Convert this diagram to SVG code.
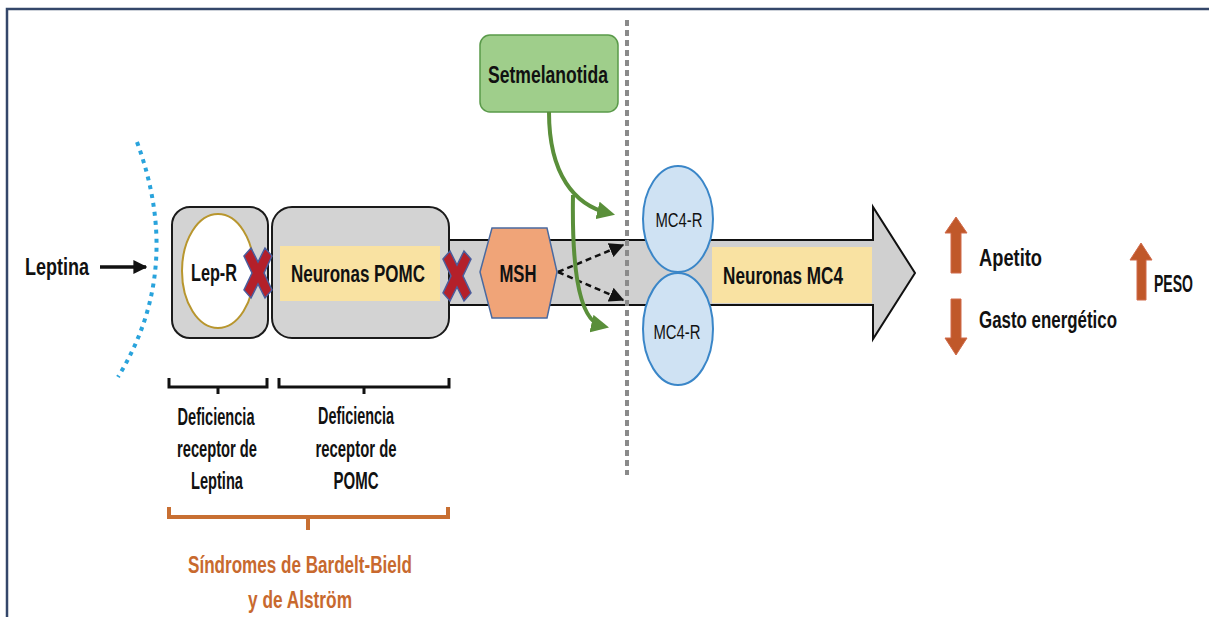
<svg xmlns="http://www.w3.org/2000/svg" width="1209" height="617" viewBox="0 0 1209 617">
<style>
text{font-family:"Liberation Sans",Arial,sans-serif;font-weight:bold;fill:#111;}
.t18{font-size:23px;}
.mid{text-anchor:middle;}
.org{fill:#c8692e;font-size:24px;}
.box{fill:#d3d3d3;stroke:#1a1a1a;stroke-width:2;}
.yel{fill:#f9e2a2;}
.xmark{fill:#b4202a;stroke:#4b5c9c;stroke-width:1.5;}
.mc4{fill:#cfe2f3;stroke:#3a86c8;stroke-width:2;}
.green{fill:none;stroke:#5a8f3a;stroke-width:4;}
.brk{fill:none;stroke:#111;stroke-width:3;}
.oarrow{fill:#c0582a;stroke:#d06a4a;stroke-width:1;}
.mtxt{font-size:21px;font-weight:normal;}
</style>
<defs>
<marker id="ablack" viewBox="0 0 10 10" refX="9" refY="5" markerWidth="4" markerHeight="4" orient="auto"><path d="M0,0L10,5L0,10z" fill="#111"/></marker>
<marker id="adash" viewBox="0 0 10 10" refX="9" refY="5" markerWidth="6" markerHeight="6" orient="auto"><path d="M0,0L10,5L0,10z" fill="#111"/></marker>
<marker id="agreen" viewBox="0 0 10 10" refX="6" refY="5" markerWidth="4.5" markerHeight="4.5" orient="auto"><path d="M0,0L10,5L0,10z" fill="#5a8f3a"/></marker>
<polygon id="xshape" points="-14,-17 -7,-25 0,-11 7,-25 14,-17 6,0 14,17 7,25 0,11 -7,25 -14,17 -6,0"/>
</defs>

<rect x="7" y="9" width="1230" height="640" fill="none" stroke="#34476a" stroke-width="2.5"/>

<g id="membrane">
<path d="M137,142 Q184,270 118,377" fill="none" stroke="#29a3dc" stroke-width="4" stroke-dasharray="4 5"/>
</g>

<g id="leptina">
<text class="t18" x="25" y="275" textLength="64" lengthAdjust="spacingAndGlyphs">Leptina</text>
</g>

<g id="pathway-arrow">
<polygon points="440,240 873,240 873,207 915,273 873,339 873,305 440,305" fill="#d0d0d0" stroke="#111" stroke-width="2"/>
</g>

<g id="lepr-box">
<rect class="box" x="172" y="207" width="96" height="131" rx="18"/>
<ellipse cx="218" cy="271" rx="36" ry="57" fill="#fff" stroke="#b8962e" stroke-width="2"/>
<text class="t18 mid" x="214" y="281" textLength="46" lengthAdjust="spacingAndGlyphs">Lep-R</text>
</g>

<g id="pomc-box">
<rect class="box" x="272" y="207" width="177" height="131" rx="20"/>
<rect class="yel" x="280" y="246" width="160" height="55"/>
<text class="t18 mid" x="358" y="282" textLength="134" lengthAdjust="spacingAndGlyphs">Neuronas POMC</text>
</g>

<g id="block1"><use href="#xshape" class="xmark" transform="translate(258,273)"/></g>
<g id="block2"><use href="#xshape" class="xmark" transform="translate(457,276)"/></g>

<g id="msh">
<polygon points="480,272 492,228 547,228 557,272 547,318 492,318" fill="#f0a478" stroke="#4a6aa0" stroke-width="1.5"/>
<text class="t18 mid" x="518" y="282" textLength="37" lengthAdjust="spacingAndGlyphs">MSH</text>
</g>

<g id="mc4r-top">
<ellipse class="mc4" cx="678" cy="219" rx="35" ry="53"/>
<text class="mid mtxt" x="679" y="227" textLength="47" lengthAdjust="spacingAndGlyphs">MC4-R</text>
</g>
<g id="mc4r-bottom">
<ellipse class="mc4" cx="678" cy="329" rx="35" ry="56"/>
<text class="mid mtxt" x="677" y="339" textLength="47" lengthAdjust="spacingAndGlyphs">MC4-R</text>
</g>

<g id="mc4-neurons">
<rect class="yel" x="712" y="247" width="160" height="56"/>
<text class="t18 mid" x="783" y="284" textLength="120" lengthAdjust="spacingAndGlyphs">Neuronas MC4</text>
</g>

<g id="setmelanotida">
<rect x="480" y="35" width="138" height="77" rx="10" fill="#9fce8b" stroke="#5a9a4a" stroke-width="1.5"/>
<text class="t18 mid" x="548" y="83" textLength="120" lengthAdjust="spacingAndGlyphs">Setmelanotida</text>
</g>

<g id="barrier">
<line x1="627" y1="20" x2="627" y2="475" stroke="#8a8a8a" stroke-width="4" stroke-dasharray="6 4"/>
</g>

<g id="connectors">
<line x1="100" y1="267" x2="146" y2="267" stroke="#111" stroke-width="3.5" marker-end="url(#ablack)"/>
<line x1="558" y1="272" x2="623" y2="245" stroke="#111" stroke-width="2.5" stroke-dasharray="6 4" marker-end="url(#adash)"/>
<line x1="558" y1="272" x2="623" y2="300" stroke="#111" stroke-width="2.5" stroke-dasharray="6 4" marker-end="url(#adash)"/>
<path class="green" d="M549,112 C549,175 575,205 608,213" marker-end="url(#agreen)"/>
<path class="green" d="M573,195 C572,255 576,320 602,326" marker-end="url(#agreen)"/>
</g>

<g id="effects">
<polygon class="oarrow" points="956,217 967,233 961,233 961,273 951,273 951,233 945,233"/>
<polygon class="oarrow" points="956,355 967,338 961,338 961,299 951,299 951,338 945,338"/>
<polygon class="oarrow" points="1141,243 1152,260 1146,260 1146,300 1137,300 1137,260 1130,260"/>
<text class="t18" x="979" y="266" textLength="63" lengthAdjust="spacingAndGlyphs">Apetito</text>
<text class="t18" x="979" y="328" textLength="138" lengthAdjust="spacingAndGlyphs">Gasto energético</text>
<text x="0" y="0" transform="translate(1154,292) scale(1,1.22)" style="font-size:19px" textLength="39" lengthAdjust="spacingAndGlyphs">PESO</text>
</g>

<g id="bracket-leptin">
<path class="brk" d="M169,378 V387 H267 V378 M218,387 V394"/>
<text class="t18 mid" x="216" y="425" textLength="77" lengthAdjust="spacingAndGlyphs">Deficiencia</text>
<text class="t18 mid" x="217" y="457" textLength="80" lengthAdjust="spacingAndGlyphs">receptor de</text>
<text class="t18 mid" x="217" y="489" textLength="52" lengthAdjust="spacingAndGlyphs">Leptina</text>
</g>

<g id="bracket-pomc">
<path class="brk" d="M279,378 V387 H449 V378 M364,387 V394"/>
<text class="t18 mid" x="356" y="424" textLength="76" lengthAdjust="spacingAndGlyphs">Deficiencia</text>
<text class="t18 mid" x="356" y="457" textLength="81" lengthAdjust="spacingAndGlyphs">receptor de</text>
<text class="t18 mid" x="356" y="489" textLength="45" lengthAdjust="spacingAndGlyphs">POMC</text>
</g>

<g id="bracket-syndromes">
<path d="M169,507 V517 H448 V507 M308,517 V530" fill="none" stroke="#c86f32" stroke-width="4"/>
<text class="org mid" x="300" y="573" textLength="224" lengthAdjust="spacingAndGlyphs">Síndromes de Bardelt-Bield</text>
<text class="org mid" x="300" y="608" textLength="104" lengthAdjust="spacingAndGlyphs">y de Alström</text>
</g>
</svg>
